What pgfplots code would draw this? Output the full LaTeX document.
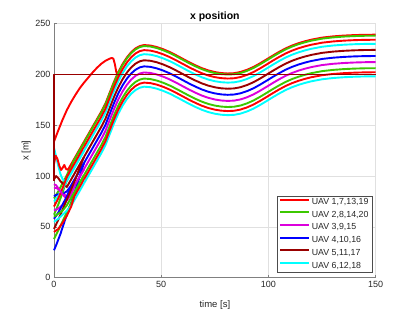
\documentclass[border=0pt]{standalone}
\usepackage{fontspec}
\setmainfont{Liberation Sans}
\usepackage{pgfplots}
\pgfplotsset{compat=1.18}
\usepackage{pgfplotstable}
\definecolor{cR}{rgb}{1,0,0}
\definecolor{cG}{RGB}{60,200,0}
\definecolor{cM}{RGB}{220,0,220}
\definecolor{cB}{rgb}{0,0,1}
\definecolor{cD}{RGB}{153,0,0}
\definecolor{cC}{rgb}{0,1,1}
\pgfplotstableread{
t A B C D E F G H I J
14 133.9 132.9 128.9 124.9 118.9 112.9 106.9 100.9 96.9 92.9
22 163.3 162.3 158.3 154.3 148.3 142.3 136.3 130.3 126.3 122.3
24 171.5 170.5 166.5 162.5 156.5 150.5 144.5 138.5 134.5 130.5
26 182.3 181.3 177.3 173.3 167.3 161.3 155.3 149.3 145.3 141.3
28 193.0 192.0 188.0 184.0 178.0 172.0 166.0 160.0 156.0 152.0
30 202.5 201.5 197.5 193.5 187.5 181.5 175.5 169.5 165.5 161.5
32 210.4 209.4 205.4 201.4 195.4 189.4 183.4 177.4 173.4 169.4
34 216.9 215.9 211.9 207.9 201.9 195.9 189.9 183.9 179.9 175.9
36 222.0 221.0 217.0 213.0 207.0 201.0 195.0 189.0 185.0 181.0
38 225.7 224.7 220.7 216.7 210.7 204.7 198.7 192.7 188.7 184.7
40 228.0 227.0 223.0 219.0 213.0 207.0 201.0 195.0 191.0 187.0
42 229.0 228.0 224.0 220.0 214.0 208.0 202.0 196.0 192.0 188.0
45 228.5 227.5 223.5 219.5 213.5 207.5 201.5 195.5 191.5 187.5
48 227.0 226.0 222.0 218.0 212.0 206.0 200.0 194.0 190.0 186.0
51 224.8 223.8 219.8 215.8 209.8 203.8 197.8 191.8 187.8 183.8
54 222.1 221.1 217.1 213.1 207.1 201.1 195.1 189.1 185.1 181.1
57 218.9 217.9 213.9 209.9 203.9 197.9 191.9 185.9 181.9 177.9
60 215.5 214.5 210.5 206.5 200.5 194.5 188.5 182.5 178.5 174.5
63 212.1 211.1 207.1 203.1 197.1 191.1 185.1 179.1 175.1 171.1
66 209.0 208.0 204.0 200.0 194.0 188.0 182.0 176.0 172.0 168.0
69 206.2 205.2 201.2 197.2 191.2 185.2 179.2 173.2 169.2 165.2
72 204.0 203.0 199.0 195.0 189.0 183.0 177.0 171.0 167.0 163.0
75 202.4 201.4 197.4 193.4 187.4 181.4 175.4 169.4 165.4 161.4
78 201.4 200.4 196.4 192.4 186.4 180.4 174.4 168.4 164.4 160.4
81 201.0 200.0 196.0 192.0 186.0 180.0 174.0 168.0 164.0 160.0
84 201.3 200.3 196.3 192.3 186.3 180.3 174.3 168.3 164.3 160.3
87 202.5 201.5 197.5 193.5 187.5 181.5 175.5 169.5 165.5 161.5
90 204.6 203.6 199.6 195.6 189.6 183.6 177.6 171.6 167.6 163.6
93 207.4 206.4 202.4 198.4 192.4 186.4 180.4 174.4 170.4 166.4
96 210.9 209.9 205.9 201.9 195.9 189.9 183.9 177.9 173.9 169.9
99 214.7 213.7 209.7 205.7 199.7 193.7 187.7 181.7 177.7 173.7
102 218.6 217.6 213.6 209.6 203.6 197.6 191.6 185.6 181.6 177.6
105 222.3 221.3 217.3 213.3 207.3 201.3 195.3 189.3 185.3 181.3
108 225.7 224.7 220.7 216.7 210.7 204.7 198.7 192.7 188.7 184.7
111 228.5 227.5 223.5 219.5 213.5 207.5 201.5 195.5 191.5 187.5
114 230.8 229.8 225.8 221.8 215.8 209.8 203.8 197.8 193.8 189.8
117 232.7 231.7 227.7 223.7 217.7 211.7 205.7 199.7 195.7 191.7
120 234.3 233.3 229.3 225.3 219.3 213.3 207.3 201.3 197.3 193.3
125 236.3 235.3 231.3 227.3 221.3 215.3 209.3 203.3 199.3 195.3
130 237.5 236.5 232.5 228.5 222.5 216.5 210.5 204.5 200.5 196.5
135 238.3 237.3 233.3 229.3 223.3 217.3 211.3 205.3 201.3 197.3
140 238.8 237.8 233.8 229.8 223.8 217.8 211.8 205.8 201.8 197.8
145 239.1 238.1 234.1 230.1 224.1 218.1 212.1 206.1 202.1 198.1
150 239.2 238.2 234.2 230.2 224.2 218.2 212.2 206.2 202.2 198.2
}\bundle
\begin{document}
\begin{tikzpicture}
\useasboundingbox (-54pt,-34.3pt) rectangle (361pt,277.7pt);
\begin{axis}[
  scale only axis, width=321.7pt, height=254pt,
  xmin=0, xmax=150, ymin=0, ymax=250,
  xtick={0,50,100,150}, ytick={0,50,100,150,200,250},
  axis x line*=bottom, axis y line*=left,
  axis line style={black!50, line width=0.5pt, -},
  grid=major, major grid style={black!12, line width=0.5pt},
  tick style={black!50, line width=0.5pt}, major tick length=3pt, tick align=inside,
  ticklabel style={font=\fontsize{9}{10}\selectfont, text=black!85},
  /pgf/number format/assume math mode=true,
  xlabel={time [s]}, ylabel={x [m]},
  xlabel shift=6pt, ylabel shift=-2pt,
  label style={font=\fontsize{9.5}{11}\selectfont, text=black!85},
  title={x position},
  title style={font=\fontsize{10.5}{12}\selectfont\bfseries, yshift=-8pt},
  clip=false,
  every axis plot/.append style={line width=1.9pt, line join=round},
  legend style={at={(1,0)}, anchor=south east, xshift=-3.4pt, yshift=5.4pt,
    draw=black!70, line width=0.5pt, font=\fontsize{8.8}{10}\selectfont, text=black!85,
    inner xsep=2.2pt, inner ysep=2.2pt, row sep=4.4pt,
    nodes={inner xsep=1.4pt, inner ysep=0pt, text height=6.5pt, text depth=1.8pt},
    cells={anchor=west}},
  legend image code/.code={\draw[#1, line width=2pt] (0pt,2.5pt) -- (29pt,2.5pt);},
]
\addlegendimage{cR}\addlegendentry{UAV 1,7,13,19}
\addlegendimage{cG}\addlegendentry{UAV 2,8,14,20}
\addlegendimage{cM}\addlegendentry{UAV 3,9,15}
\addlegendimage{cB}\addlegendentry{UAV 4,10,16}
\addlegendimage{cD}\addlegendentry{UAV 5,11,17}
\addlegendimage{cC}\addlegendentry{UAV 6,12,18}
% early parts
\addplot[cR, forget plot] coordinates {(0,134)(2,145)(4,155.5)(6,165)(8,173)(10,180)(12,186.5)(14,192)(16,197)(18,202)(20,206.5)(22,210.5)(24,213.5)(26,215.6)(27,216.3)(27.7,215.5)(28.4,210)(29,203)(29.4,200.5)(30,202.5)};
\addplot[cG, forget plot] coordinates {(0,78)(2,85)(4,93)(6,101)(8,110.7)(10,118.1)(12,125.5)(14,132.9)};
\addplot[cM, forget plot] coordinates {(0,88)(1,88.5)(2,87)(4,83.5)(6,80)(8,84.7)(10,92.1)(12,99.5)(14,106.9)};
\addplot[cB, forget plot] coordinates {(0,80)(1,81.5)(2,82)(4,82.5)(6,85)(8,90.7)(10,98.1)(12,105.5)(14,112.9)};
\addplot[cC, forget plot] coordinates {(0,128)(1,119)(2,110)(3,102)(4,97)(5,95)(6,95.3)(8,102.7)(10,110.1)(12,117.5)(14,124.9)};
\addplot[cR, forget plot] coordinates {(0,112)(0.8,120)(1.6,117)(2.5,110)(3.3,106)(4,108)(4.8,111)(5.6,107)(6.5,106.2)(8,111.7)(10,119.1)(12,126.5)(14,133.9)};
\addplot[cG, forget plot] coordinates {(0,62)(2,72)(4,84)(6,96)(8,108)(9,114.4)(10,118.1)(12,125.5)(14,132.9)};
\addplot[cM, forget plot] coordinates {(0,66)(2,68)(4,71.5)(6,76)(8,82)(10,92.1)(12,99.5)(14,106.9)};
\addplot[cB, forget plot] coordinates {(0,27)(1,32)(3,43)(5,56)(7,68)(9,80)(11,93)(12.5,103)(14,112.9)};
\addplot[cD, forget plot] coordinates {(0,97)(1,100)(2,98)(3,95)(4,93)(6,89.3)(8,96.7)(10,104.1)(12,111.5)(14,118.9)};
\addplot[cC, forget plot] coordinates {(0,75)(2,80)(4,87)(6,95.3)(8,102.7)(10,110.1)(12,117.5)(14,124.9)};
\addplot[cR, forget plot] coordinates {(0,70)(2,78)(4,88)(6,99.3)(8,106.7)(10,114.1)(12,121.5)(14,128.9)};
\addplot[cG, forget plot] coordinates {(0,38)(2,46.5)(4,55.5)(6,64.5)(8,73.5)(10,83)(12,93.5)(14,100.9)};
\addplot[cM, forget plot] coordinates {(0,92)(1,91)(2,88)(4,82)(6,77.3)(8,84.7)(10,92.1)(12,99.5)(14,106.9)};
\addplot[cB, forget plot] coordinates {(0,58)(2,64)(4,72)(6,80)(8,90.7)(10,98.1)(12,105.5)(14,112.9)};
\addplot[cD, forget plot] coordinates {(0,48)(2,57)(4,67)(6,77)(8,87)(10,97)(12,108.5)(14,118.9)};
\addplot[cC, forget plot] coordinates {(0,55)(2,58)(4,62)(6,66)(8,70.7)(10,78.1)(12,85.5)(14,92.9)};
\addplot[cR, forget plot] coordinates {(0,45)(2,48)(4,54)(6,61)(8,70)(9.5,80.2)(12,89.5)(14,96.9)};
\addplot[cG, forget plot] coordinates {(0,60)(2,63)(4,66)(6,71.3)(8,78.7)(10,86.1)(12,93.5)(14,100.9)};
% bundle
\addplot[cR, forget plot] table[x=t, y=A] {\bundle};
\addplot[cG, forget plot] table[x=t, y=B] {\bundle};
\addplot[cM, forget plot] table[x=t, y=G] {\bundle};
\addplot[cB, forget plot] table[x=t, y=F] {\bundle};
\addplot[cD, forget plot] table[x=t, y=E] {\bundle};
\addplot[cC, forget plot] table[x=t, y=D] {\bundle};
\addplot[cR, forget plot] table[x=t, y=C] {\bundle};
\addplot[cG, forget plot] table[x=t, y=H] {\bundle};
\addplot[cC, forget plot] table[x=t, y=J] {\bundle};
\addplot[cR, forget plot] table[x=t, y=I] {\bundle};
\addplot[cD, forget plot] coordinates {(0,95)(0,200)(150,200)};
\end{axis}
\end{tikzpicture}
\end{document}
